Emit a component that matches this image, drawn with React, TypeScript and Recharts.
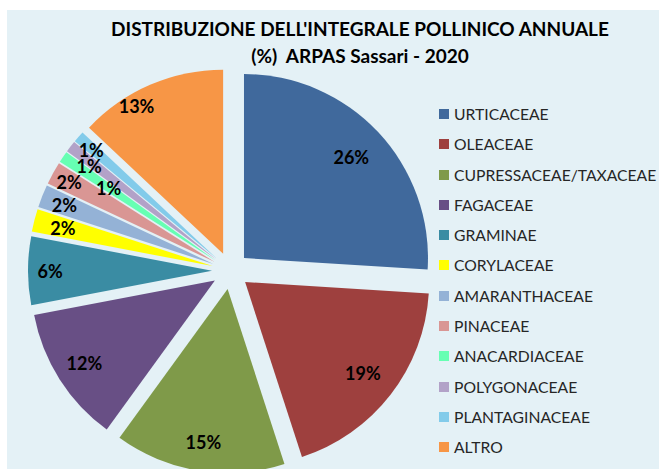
import { PieChart, Pie, Cell, Sector, Legend } from 'recharts';

const families = [
  'URTICACEAE',
  'OLEACEAE',
  'CUPRESSACEAE/TAXACEAE',
  'FAGACEAE',
  'GRAMINAE',
  'CORYLACEAE',
  'AMARANTHACEAE',
  'PINACEAE',
  'ANACARDIACEAE',
  'POLYGONACEAE',
  'PLANTAGINACEAE',
  'ALTRO',
];
const percentages = [26, 19, 15, 12, 6, 2, 2, 2, 1, 1, 1, 13];
const colors = [
  '#40699c', '#9e403e', '#7f9a49', '#684f85', '#3a8ca3', '#ffff00',
  '#94b2d6', '#d99694', '#66ffb3', '#b2a2c8', '#82cbea', '#f79646',
];

const data = families.map((name, i) => ({ name, value: percentages[i] }));

const RADIAN = Math.PI / 180;
const EXPLODE = 18.5;
const FONT = 'Lato, "Open Sans", sans-serif';

// per-slice label nudges (radius fraction / angle in degrees)
const labelTweaks: Record<number, { r?: number; a?: number }> = {
  0: { r: 0.8 },
  1: { r: 0.81 },
  4: { r: 0.88 },
  6: { r: 0.87 },
  7: { r: 0.9 },
  8: { r: 0.7 },
  9: { r: 0.855, a: 1.5 },
  10: { r: 0.9, a: 0.6 },
  11: { r: 0.93, a: 7 },
};

function offsetFor(midAngle: number) {
  return {
    dx: EXPLODE * Math.cos(-midAngle * RADIAN),
    dy: EXPLODE * Math.sin(-midAngle * RADIAN),
  };
}

function ExplodedSector(props: any) {
  const { cx, cy, midAngle } = props;
  const { dx, dy } = offsetFor(midAngle);
  return <Sector {...props} cx={cx + dx} cy={cy + dy} stroke="none" />;
}

function renderLabel(props: any) {
  const { cx, cy, midAngle, outerRadius, index, value } = props;
  const t = labelTweaks[index] || {};
  const { dx, dy } = offsetFor(midAngle);
  const a = (midAngle + (t.a || 0)) * RADIAN;
  const r = outerRadius * (t.r || 0.84);
  const x = cx + dx + r * Math.cos(-a);
  const y = cy + dy + r * Math.sin(-a);
  return (
    <text
      x={x}
      y={y}
      textAnchor="middle"
      dominantBaseline="central"
      fill="#000"
      fontFamily={FONT}
      fontWeight={700}
      fontSize={18}
    >
      {value}%
    </text>
  );
}

function renderLegend() {
  return (
    <div style={{ fontFamily: FONT, fontSize: 15.7, color: '#262626' }}>
      {families.map((name, i) => (
        <div key={name} style={{ display: 'flex', alignItems: 'center', height: 30.27 }}>
          <span style={{ width: 10, height: 10, background: colors[i], marginRight: 5 }} />
          <span>{name}</span>
        </div>
      ))}
    </div>
  );
}

export default function App() {
  return (
    <div style={{ position: 'absolute', left: 0, top: 0, width: 659, height: 469, background: '#fff', overflow: 'hidden' }}>
      <div style={{ position: 'absolute', left: 7, top: 10, right: 0, bottom: 0, background: '#e4f1f6' }} />
      <div
        style={{
          position: 'absolute',
          left: 0,
          width: 720,
          top: 15,
          textAlign: 'center',
          fontFamily: FONT,
          fontWeight: 700,
          fontSize: 19,
          lineHeight: '27px',
          color: '#000',
        }}
      >
        <div>DISTRIBUZIONE DELL'INTEGRALE POLLINICO ANNUALE</div>
        <div>(%)&nbsp;&nbsp;ARPAS Sassari - 2020</div>
      </div>
      <div style={{ position: 'absolute', left: 0, top: 0 }}>
        <PieChart width={659} height={469} margin={{ top: 0, right: 0, bottom: 0, left: 0 }}>
          <Pie
            data={data}
            dataKey="value"
            nameKey="name"
            cx={230.5}
            cy={270.7}
            outerRadius={184}
            startAngle={90}
            endAngle={-270}
            stroke="none"
            shape={ExplodedSector}
            label={renderLabel}
            labelLine={false}
            isAnimationActive={false}
          >
            {data.map((d, i) => (
              <Cell key={d.name} fill={colors[i]} />
            ))}
          </Pie>
          <Legend
            layout="vertical"
            align="right"
            verticalAlign="top"
            content={renderLegend}
            wrapperStyle={{ top: 99, left: 439, right: 'auto', width: 220 }}
          />
        </PieChart>
      </div>
    </div>
  );
}
